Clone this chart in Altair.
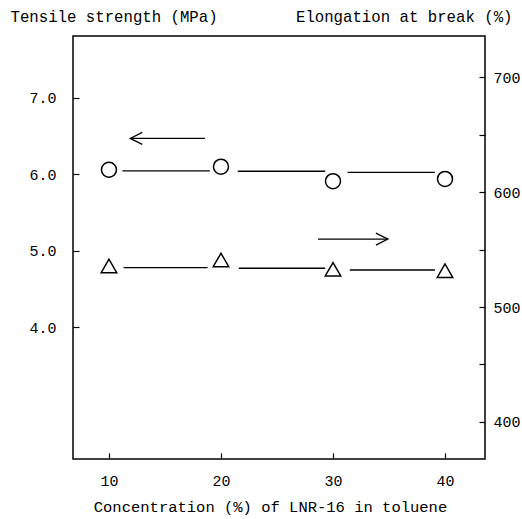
import altair as alt
import pandas as pd

# Concentration of LNR-16 in toluene (%)
concentration = [10, 20, 30, 40]
# Tensile strength (MPa), left axis
tensile = [6.06, 6.10, 5.91, 5.94]
# Elongation at break (%), right axis
elongation = [535.7, 540.9, 532.8, 531.6]

# Horizontal trend segments between the markers: start, end, level
seg_start = [11.2, 21.5, 31.3]
seg_end = [19.0, 29.3, 39.1]
tensile_levels = [6.044, 6.04, 6.026]
elong_seg_start = [11.3, 21.6, 31.5]
elong_seg_end = [18.8, 29.3, 39.1]
elong_levels = [534.2, 533.7, 532.2]

# Arrows telling which axis each series belongs to: tail, tip, level
left_arrow = {"tail": 18.57, "tip": 11.9, "y": 6.47}
right_arrow = {"tail": 28.66, "tip": 34.9, "y": 559.1}

FONT = "Liberation Mono"
INK = "black"
W, H = 412, 423
TICK = 6

points = pd.DataFrame({"c": concentration, "ts": tensile, "eb": elongation})
ts_segs = pd.DataFrame({"x1": seg_start, "x2": seg_end, "y": tensile_levels})
eb_segs = pd.DataFrame({"x1": elong_seg_start, "x2": elong_seg_end, "y": elong_levels})
la = pd.DataFrame([left_arrow])
ra = pd.DataFrame([right_arrow])

x_scale = alt.Scale(domain=[6.79, 43.57], nice=False, zero=False)
ts_scale = alt.Scale(domain=[2.275, 7.81], nice=False, zero=False)
eb_scale = alt.Scale(domain=[367.8, 735.7], nice=False, zero=False)

x_axis = alt.Axis(
    values=concentration, format="d", domain=False, grid=False,
    tickSize=TICK, offset=-TICK, tickColor=INK, tickWidth=1.2,
    labelPadding=14, labelFont=FONT, labelFontSize=15, labelColor=INK,
    title="Concentration (%) of LNR-16 in toluene",
    titleFont=FONT, titleFontSize=15.5, titleFontWeight="normal", titleColor=INK,
    titleX=197, titleY=58, titleAlign="center", titleBaseline="alphabetic",
)

ts_axis = alt.Axis(
    orient="left", values=[4, 5, 6, 7], format=".1f", domain=False, grid=False,
    tickSize=TICK, offset=-TICK, tickColor=INK, tickWidth=1.2,
    labelPadding=17, labelFont=FONT, labelFontSize=15, labelColor=INK,
    title="Tensile strength (MPa)", titleAngle=0,
    titleFont=FONT, titleFontSize=15.7, titleFontWeight="normal", titleColor=INK,
    titleX=-69, titleY=-15, titleAlign="left", titleBaseline="alphabetic",
)

eb_axis = alt.Axis(
    orient="right", values=[400, 450, 500, 550, 600, 650, 700],
    labelExpr="datum.value % 100 === 0 ? datum.label : ''",
    domain=False, grid=False,
    tickSize=TICK, offset=-TICK, tickColor=INK, tickWidth=1.2,
    labelPadding=8, labelFont=FONT, labelFontSize=15, labelColor=INK,
    title="Elongation at break (%)", titleAngle=0,
    titleFont=FONT, titleFontSize=15.7, titleFontWeight="normal", titleColor=INK,
    titleX=33, titleY=-15, titleAlign="right", titleBaseline="alphabetic",
)

X = alt.X("c:Q", scale=x_scale, axis=x_axis)


def ts_y(field):
    return alt.Y(field, scale=ts_scale, axis=ts_axis)


def eb_y(field):
    return alt.Y(field, scale=eb_scale, axis=eb_axis)


# Tensile strength: circles, segments and left-pointing arrow
ts_points = alt.Chart(points).mark_point(
    shape="circle", size=225, filled=False, color=INK, strokeWidth=1.5, opacity=1
).encode(x=X, y=ts_y("ts:Q"))

ts_lines = alt.Chart(ts_segs).mark_rule(color=INK, strokeWidth=1.3).encode(
    x=alt.X("x1:Q", scale=x_scale, axis=x_axis), x2="x2:Q", y=ts_y("y:Q"),
)

la_shaft = alt.Chart(la).mark_rule(color=INK, strokeWidth=1.3).encode(
    x=alt.X("tip:Q", scale=x_scale, axis=x_axis), x2="tail:Q", y=ts_y("y:Q"),
)
la_head = alt.Chart(la).mark_point(
    shape="M 1 -0.5 L 0 0 L 1 0.5", size=576, filled=False,
    color=INK, strokeWidth=1.3, opacity=1,
).encode(x=alt.X("tip:Q", scale=x_scale, axis=x_axis), y=ts_y("y:Q"))

left_layer = alt.layer(ts_points, ts_lines, la_shaft, la_head)

# Elongation at break: triangles, segments and right-pointing arrow
eb_points = alt.Chart(points).mark_point(
    shape="triangle-up", size=240, filled=False, color=INK, strokeWidth=1.5, opacity=1
).encode(x=X, y=eb_y("eb:Q"))

eb_lines = alt.Chart(eb_segs).mark_rule(color=INK, strokeWidth=1.3).encode(
    x=alt.X("x1:Q", scale=x_scale, axis=x_axis), x2="x2:Q", y=eb_y("y:Q"),
)

ra_shaft = alt.Chart(ra).mark_rule(color=INK, strokeWidth=1.3).encode(
    x=alt.X("tail:Q", scale=x_scale, axis=x_axis), x2="tip:Q", y=eb_y("y:Q"),
)
ra_head = alt.Chart(ra).mark_point(
    shape="M -1 -0.5 L 0 0 L -1 0.5", size=576, filled=False,
    color=INK, strokeWidth=1.3, opacity=1,
).encode(x=alt.X("tip:Q", scale=x_scale, axis=x_axis), y=eb_y("y:Q"))

right_layer = alt.layer(eb_points, eb_lines, ra_shaft, ra_head)

chart = (
    alt.layer(left_layer, right_layer)
    .resolve_scale(y="independent")
    .properties(
        width=W, height=H,
        autosize=alt.AutoSizeParams(type="none"),
        padding={"left": 73, "top": 36, "right": 37, "bottom": 60},
        background="white",
    )
    .configure_view(stroke=INK, strokeWidth=1.5)
)

chart.save("out.html", embed_options={"renderer": "svg", "actions": False})
